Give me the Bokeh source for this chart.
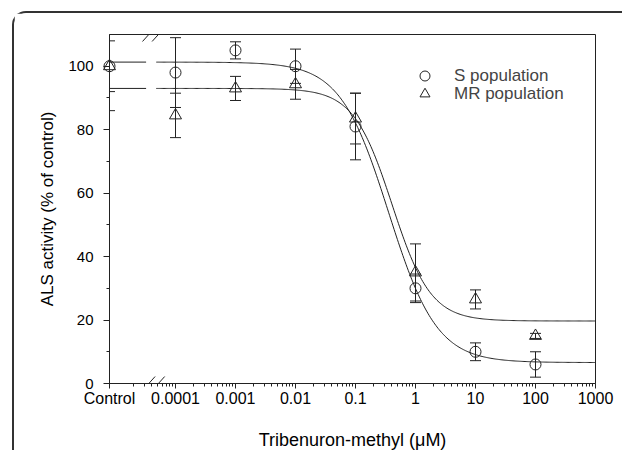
import numpy as np
from bokeh.plotting import figure
from bokeh.models import (ColumnDataSource, Whisker, TeeHead, Arrow, FixedTicker,
                          Legend, LegendItem)
from bokeh.embed import file_html
from bokeh.resources import INLINE

# ---------------- data ----------------
tick_values = [0.0001, 0.001, 0.01, 0.1, 1, 10, 100, 1000]
tick_labels = ["0.0001", "0.001", "0.01", "0.1", "1", "10", "100", "1000"]
control_label = "Control"

doses = [0, 0.0001, 0.001, 0.01, 0.1, 1, 10, 100]          # 0 = control
s_mean = [100, 98, 105, 100, 81, 30, 10, 6]
s_err = [8, 11, 2.7, 5.4, 10.5, 4.5, 2.8, 4]
mr_mean = [100, 84.5, 93, 94.3, 83.5, 35, 26.5, 15]
mr_err = [14, 7, 3.8, 4.7, 8, 9, 3, 0.8]

# fitted log-logistic parameters
s_fit = dict(top=101.3, bottom=6.6, ec50=0.356, hill=1.08)
mr_fit = dict(top=93.0, bottom=19.7, ec50=0.408, hill=1.35)

series_names = ["S population", "MR population"]

# ---------------- layout constants ----------------
CONTROL_POS = -5.1      # log10 position used for the control group
X_END = 3.0
BREAK_LEFT = -4.49
BREAK_RIGHT = -4.32
BREAK_X = -4.44
Y_MAX = 110
INK = "#222222"
FONT = "Liberation Sans"


def xpos(d):
    return np.log10(d) if d > 0 else CONTROL_POS


x = [xpos(d) for d in doses]


def curve(fit, lx):
    c = 10.0 ** lx
    return fit["bottom"] + (fit["top"] - fit["bottom"]) / (1 + (c / fit["ec50"]) ** fit["hill"])


p = figure(width=610, height=439, output_backend="svg", toolbar_location=None,
           x_range=(CONTROL_POS, X_END), y_range=(0, Y_MAX),
           min_border_left=95, min_border_right=29, min_border_top=21, min_border_bottom=69,
           background_fill_color="white", border_fill_color="white")
p.styles = {"margin-left": "12px", "margin-top": "11px",
            "border-left": "2px solid #333", "border-top": "2px solid #333",
            "border-top-left-radius": "14px", "margin-bottom": "-30px"}

p.grid.visible = False
p.outline_line_color = INK
p.outline_line_width = 1

# x axis
major = [CONTROL_POS] + [float(np.log10(v)) for v in tick_values]
minor = []
for dec in range(-5, 3):
    for k in range(2, 10):
        m = float(np.log10(k * 10.0 ** dec))
        if m > CONTROL_POS + 0.2:
            minor.append(m)
p.xaxis.ticker = FixedTicker(ticks=major, minor_ticks=minor)
overrides = {CONTROL_POS: control_label}
for v, lab in zip(tick_values, tick_labels):
    overrides[float(np.log10(v))] = lab
p.xaxis.major_label_overrides = overrides
p.xaxis.axis_label = "Tribenuron-methyl (\u03bcM)"
p.xaxis.major_tick_out = 5
p.xaxis.major_tick_in = 0
p.xaxis.minor_tick_out = 3
p.xaxis.minor_tick_in = 0
p.xaxis.major_label_standoff = 1
p.xaxis.axis_label_standoff = 20

# y axis
p.yaxis.ticker = FixedTicker(ticks=[0, 20, 40, 60, 80, 100], minor_ticks=[10, 30, 50, 70, 90])
p.yaxis.axis_label = "ALS activity (% of control)"
p.yaxis.major_tick_out = 6
p.yaxis.major_tick_in = 0
p.yaxis.minor_tick_out = 3
p.yaxis.minor_tick_in = 0
p.yaxis.major_label_standoff = 10
p.yaxis.axis_label_standoff = 8

for ax in (p.xaxis, p.yaxis):
    ax.axis_line_color = INK
    ax.major_tick_line_color = INK
    ax.minor_tick_line_color = INK
    ax.major_label_text_font = FONT
    ax.major_label_text_color = "black"
    ax.axis_label_text_font = FONT
    ax.axis_label_text_font_style = "normal"
    ax.axis_label_text_color = "black"
p.xaxis.major_label_text_font_size = "16px"
p.yaxis.major_label_text_font_size = "15px"
p.xaxis.axis_label_text_font_size = "18px"
p.yaxis.axis_label_text_font_size = "17px"

# fitted curves
for fit in (s_fit, mr_fit):
    p.line([CONTROL_POS, BREAK_LEFT], [fit["top"], fit["top"]], line_color=INK, line_width=1)
    lx = np.linspace(BREAK_RIGHT, X_END, 400)
    p.line(lx, curve(fit, lx), line_color=INK, line_width=1)

# error bars and markers
src_s = ColumnDataSource(dict(x=x, y=s_mean,
                              lo=[m - e for m, e in zip(s_mean, s_err)],
                              hi=[m + e for m, e in zip(s_mean, s_err)]))
src_mr = ColumnDataSource(dict(x=x, y=mr_mean,
                               lo=[m - e for m, e in zip(mr_mean, mr_err)],
                               hi=[m + e for m, e in zip(mr_mean, mr_err)]))
for src in (src_s, src_mr):
    p.add_layout(Whisker(source=src, base="x", lower="lo", upper="hi",
                         line_color=INK, line_width=1,
                         upper_head=TeeHead(size=11, line_color=INK, line_width=1),
                         lower_head=TeeHead(size=11, line_color=INK, line_width=1)))

r_s = p.scatter("x", "y", source=src_s, marker="circle", size=11,
                fill_alpha=0, line_color=INK, line_width=1, level="overlay")
r_mr = p.scatter("x", "y", source=src_mr, marker="triangle", size=12,
                 fill_alpha=0, line_color=INK, line_width=1, level="overlay")

# axis break marks
for yb in (0, Y_MAX):
    for off in (0.0, 0.16):
        p.add_layout(Arrow(end=None, x_start=BREAK_X - 0.11 + off, y_start=yb - 2.2,
                           x_end=BREAK_X + 0.10 + off, y_end=yb + 2.2,
                           line_color=INK, line_width=1))

# legend: one entry per legend box so rows sit 18px apart
for name, rend, loc in ((series_names[0], r_s, (303, 295)),
                        (series_names[1], r_mr, (303, 277))):
    lg = Legend(items=[LegendItem(label=name, renderers=[rend])],
                location=loc, glyph_width=25, glyph_height=25, label_height=25,
                padding=0, margin=0, label_standoff=17,
                border_line_alpha=0, background_fill_alpha=0,
                label_text_font=FONT, label_text_font_size="17px")
    p.add_layout(lg)

open("out.html", "w").write(file_html(p, INLINE))
